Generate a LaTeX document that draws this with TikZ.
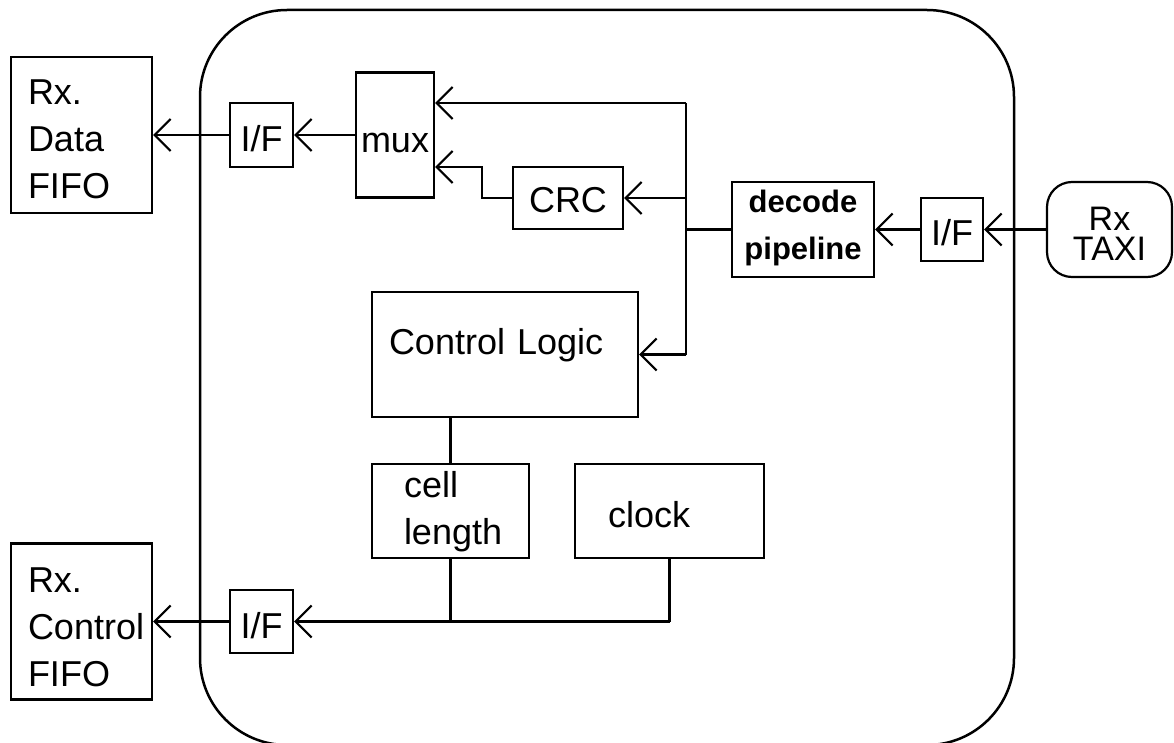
\documentclass[tikz,border=0pt]{standalone}
\usepackage{fontspec}
\setmainfont{Liberation Sans}
\usetikzlibrary{arrows.meta}
\begin{document}
\begin{tikzpicture}[x=1pt,y=-1pt,line width=2.2pt,
  box/.style={draw,rectangle,inner sep=0pt,font=\fontsize{36}{47}\selectfont},
  arr/.style={-{Straight Barb[length=16pt,width=32pt,line width=2.2pt]}},
  frame/.style={line width=2.5pt,rounded corners=87pt}]
\useasboundingbox (0,0) rectangle (1174,743);
% outer frame
\draw[frame] (200,10) rectangle (1014,745);
% FIFOs
\node[box,minimum width=141pt,minimum height=156pt,text width=107pt,inner xsep=17pt,align=left,text height=20pt,text depth=80pt] (dfifo) at (81.5,135) {Rx.\\Data\\FIFO};
\node[box,minimum width=141pt,minimum height=156pt,text width=107pt,inner xsep=17pt,align=left,text height=20pt,text depth=78pt] (cfifo) at (81.5,621.5) {Rx.\\Control\\FIFO};
% interfaces
\node[box,minimum width=63pt,minimum height=64pt,text height=34pt,text depth=0pt] (if1) at (261.5,135) {I/F};
\node[box,minimum width=63pt,minimum height=63pt,text height=33pt,text depth=0pt] (if2) at (261.5,621.5) {I/F};
\node[box,minimum width=62pt,minimum height=63pt,text height=31pt,text depth=0pt] (if3) at (952,229.5) {I/F};
% mux, CRC
\node[box,minimum width=78pt,minimum height=125pt,text height=35pt,text depth=0pt] (mux) at (395,135) {mux};
\node[box,minimum width=110pt,minimum height=62pt,text height=30pt,text depth=0pt] (crc) at (568,198) {CRC};
% decode pipeline
\node[box,minimum width=142pt,minimum height=95pt,text width=142pt,align=center,text height=20pt,text depth=53pt,font=\fontsize{31}{47}\selectfont\bfseries] (decode) at (803,229.5) {decode\\pipeline};
% Rx TAXI
\node[box,rounded corners=25pt,minimum width=125pt,minimum height=95pt,text width=125pt,align=center,text height=15pt,text depth=14pt,font=\fontsize{34}{30}\selectfont] (taxi) at (1109.5,229.5) {Rx\\TAXI};
% control logic, cell length, clock
\node[box,minimum width=266pt,minimum height=125pt,text width=232pt,inner xsep=17pt,align=left,text height=12pt,text depth=12pt] (ctrl) at (505,354.5) {Control Logic};
\node[box,minimum width=157pt,minimum height=94pt,text width=93pt,inner xsep=32pt,align=left,text height=20pt,text depth=48pt] (cell) at (450.5,511) {cell\\length};
\node[box,minimum width=189pt,minimum height=94pt,text width=123pt,inner xsep=33pt,align=left,text height=32pt,text depth=0pt] (clock) at (669.5,511) {clock};
% bus coordinates
\coordinate (bt) at (686,103);
\coordinate (bb) at (686,354.5);
\coordinate (cm) at (482,167);
% connectors
\draw[arr] (mux.west) -- (if1.east);
\draw[arr] (if1.west) -- (dfifo.east);
\draw (bt) -- (bb);
\draw[arr] (bt) -- (bt -| mux.east);
\draw[arr] (bt |- crc.east) -- (crc.east);
\draw[arr] (bb) -- (ctrl.east);
\draw (decode.west) -- (decode.west -| bt);
\draw[arr] (crc.west) -| (cm) -- (cm -| mux.east);
\draw[arr] (taxi.west) -- (if3.east);
\draw[arr] (if3.west) -- (decode.east);
\draw (cell.north |- ctrl.south) -- (cell.north);
\draw (cell.south) -- (cell.south |- if2.east);
\draw (clock.south) -- (clock.south |- if2.east);
\draw[arr] (clock.south |- if2.east) -- (if2.east);
\draw[arr] (if2.west) -- (cfifo.east);
\end{tikzpicture}
\end{document}
